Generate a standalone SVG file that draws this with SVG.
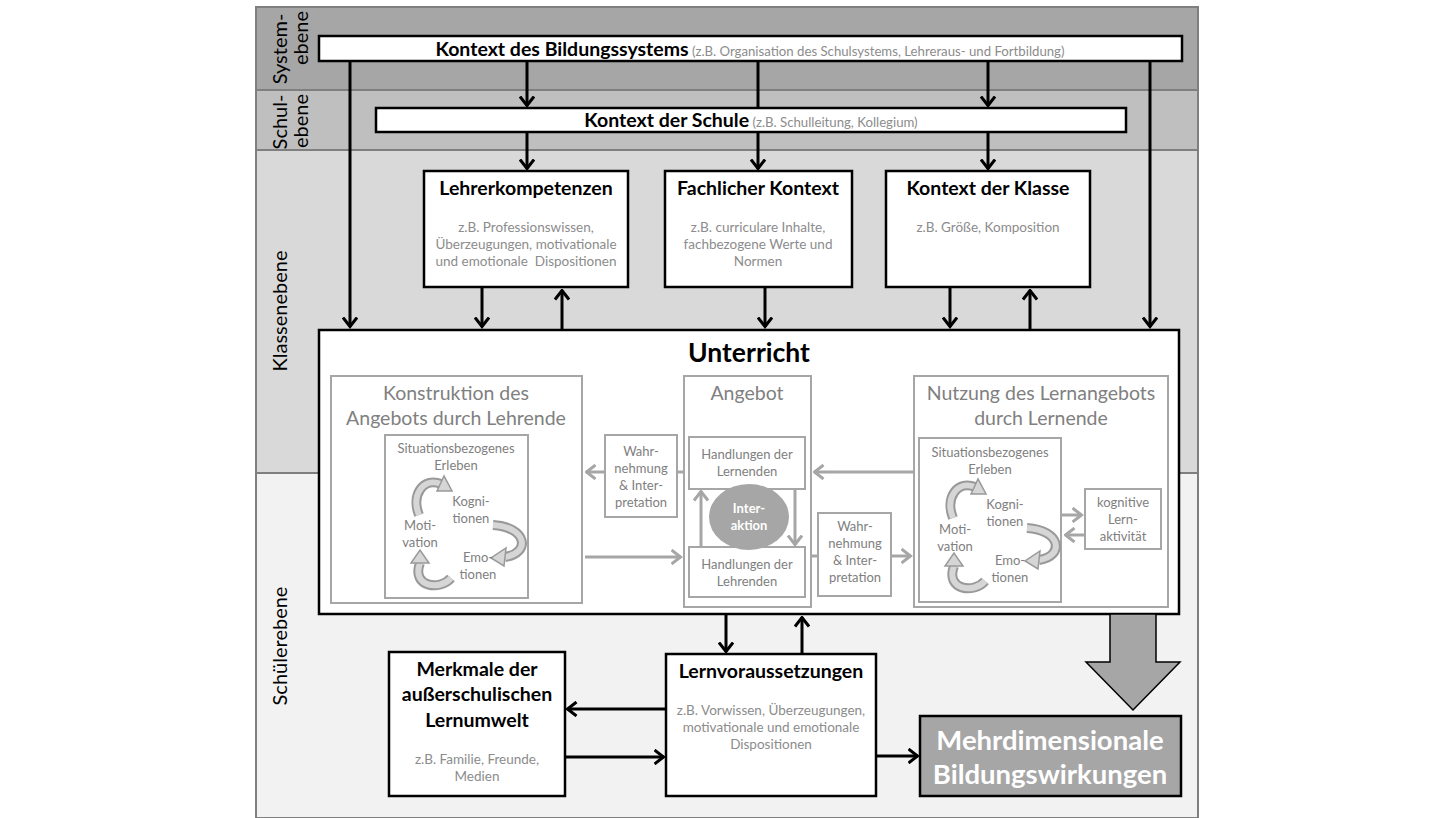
<svg xmlns="http://www.w3.org/2000/svg" width="1454" height="818" viewBox="0 0 1454 818">
<style>
text{font-family:Lato,"Open Sans","DejaVu Sans",sans-serif;}
.band{stroke:#7f7f7f;stroke-width:2;}
.lbl{font-size:20px;fill:#000;text-anchor:middle;}
.bx{fill:#fff;stroke:#000;stroke-width:2.5;}
.gbx{fill:#fff;stroke:#a6a6a6;stroke-width:2;}
.ttl{font-size:19.5px;font-weight:bold;fill:#000;text-anchor:middle;}
.sm{font-size:13.5px;fill:#8c8c8c;text-anchor:middle;}
.gt{font-size:19.5px;fill:#808080;text-anchor:middle;}
.gs{font-size:13px;fill:#808080;text-anchor:middle;}
.ar{stroke:#000;stroke-width:3;fill:none;marker-end:url(#ah);}
.ln{stroke:#000;stroke-width:3;fill:none;}
.gar{stroke:#a6a6a6;stroke-width:3;fill:none;marker-end:url(#gah);}
.gln{stroke:#a6a6a6;stroke-width:3;fill:none;}
.cy1{stroke:#999;stroke-width:10;fill:none;}
.cy2{stroke:#d6d6d6;stroke-width:6;fill:none;}
.cyh{fill:#d6d6d6;stroke:#999;stroke-width:1.5;}
</style>
<defs>
<marker id="ah" viewBox="0 0 12 16" refX="10.5" refY="8" markerWidth="12" markerHeight="16" markerUnits="userSpaceOnUse" orient="auto"><path d="M1,1 L10,8 L1,15" fill="none" stroke="#000" stroke-width="3"/></marker>
<marker id="gah" viewBox="0 0 12 16" refX="10.5" refY="8" markerWidth="12" markerHeight="16" markerUnits="userSpaceOnUse" orient="auto"><path d="M1,1 L10,8 L1,15" fill="none" stroke="#a6a6a6" stroke-width="3"/></marker>
<g id="cycle">
<path class="cy1" d="M34 80 C26 60 38 42 56 49"/><path class="cy2" d="M34 80 C26 60 38 42 56 49"/>
<polygon class="cyh" points="59,41 52,56 67,56"/>
<path class="cy1" d="M108 90 C142 92 146 118 120 122"/><path class="cy2" d="M108 90 C142 92 146 118 120 122"/>
<polygon class="cyh" points="121,113 119,131 106,123"/>
<path class="cy1" d="M66 143 C55 156 26 152 35 128"/><path class="cy2" d="M66 143 C55 156 26 152 35 128"/>
<polygon class="cyh" points="26,128 44,128 35,115"/>
</g>
</defs>

<g id="bands">
<rect x="256" y="7" width="942" height="83" fill="#a6a6a6" class="band"/>
<rect x="256" y="90" width="942" height="60" fill="#bfbfbf" class="band"/>
<rect x="256" y="150" width="942" height="323" fill="#d9d9d9" class="band"/>
<rect x="256" y="473" width="942" height="345" fill="#f2f2f2" class="band"/>
<text class="lbl" transform="translate(287,49) rotate(-90)">System-</text>
<text class="lbl" transform="translate(308,38) rotate(-90)">ebene</text>
<text class="lbl" transform="translate(287,122) rotate(-90)">Schul-</text>
<text class="lbl" transform="translate(308,121) rotate(-90)">ebene</text>
<text class="lbl" transform="translate(287,311) rotate(-90)">Klassenebene</text>
<text class="lbl" transform="translate(287,646) rotate(-90)">Schülerebene</text>
</g>

<g id="connectors">
<line class="ar" x1="350" y1="61" x2="350" y2="327"/>
<line class="ar" x1="527" y1="61" x2="527" y2="106"/>
<line class="ln" x1="758" y1="61" x2="758" y2="108"/>
<line class="ar" x1="988" y1="61" x2="988" y2="106"/>
<line class="ar" x1="1150" y1="61" x2="1150" y2="327"/>
<line class="ar" x1="527" y1="132" x2="527" y2="169"/>
<line class="ar" x1="758" y1="132" x2="758" y2="169"/>
<line class="ar" x1="988" y1="132" x2="988" y2="169"/>
<line class="ar" x1="482" y1="287" x2="482" y2="327"/>
<line class="ar" x1="562" y1="330" x2="562" y2="290"/>
<line class="ar" x1="765" y1="287" x2="765" y2="327"/>
<line class="ar" x1="950" y1="287" x2="950" y2="327"/>
<line class="ar" x1="1030" y1="330" x2="1030" y2="290"/>
<line class="ar" x1="726" y1="614" x2="726" y2="652"/>
<line class="ar" x1="802" y1="654" x2="802" y2="617"/>
<line class="ar" x1="666" y1="709" x2="567" y2="709"/>
<line class="ar" x1="565" y1="757" x2="664" y2="757"/>
<line class="ar" x1="876" y1="756" x2="918" y2="756"/>
</g>

<g id="kontext-bildungssystem">
<rect x="319" y="36" width="863" height="25" class="bx"/>
<text x="750" y="56" text-anchor="middle"><tspan font-size="19.5" font-weight="bold">Kontext des Bildungssystems</tspan><tspan font-size="13.2" fill="#8c8c8c"> (z.B. Organisation des Schulsystems, Lehreraus- und Fortbildung)</tspan></text>
</g>
<g id="kontext-schule">
<rect x="376" y="108" width="750" height="24" class="bx"/>
<text x="751" y="127" text-anchor="middle"><tspan font-size="19.5" font-weight="bold">Kontext der Schule</tspan><tspan font-size="13.2" fill="#8c8c8c"> (z.B. Schulleitung, Kollegium)</tspan></text>
</g>
<g id="lehrerkompetenzen">
<rect x="424" y="171" width="204" height="116" class="bx"/>
<text class="ttl" x="526" y="195">Lehrerkompetenzen</text>
<text class="sm" x="526" y="232">z.B. Professionswissen,</text>
<text class="sm" x="526" y="249">Überzeugungen, motivationale</text>
<text class="sm" x="526" y="266" style="white-space:pre">und emotionale  Dispositionen</text>
</g>
<g id="fachlicher-kontext">
<rect x="665" y="171" width="187" height="116" class="bx"/>
<text class="ttl" x="758" y="195">Fachlicher Kontext</text>
<text class="sm" x="758" y="232">z.B. curriculare Inhalte,</text>
<text class="sm" x="758" y="249">fachbezogene Werte und</text>
<text class="sm" x="758" y="266">Normen</text>
</g>
<g id="kontext-klasse">
<rect x="886" y="171" width="204" height="116" class="bx"/>
<text class="ttl" x="988" y="195">Kontext der Klasse</text>
<text class="sm" x="988" y="232">z.B. Größe, Komposition</text>
</g>

<g id="unterricht">
<rect x="319" y="330" width="860" height="284" class="bx"/>
<text x="749" y="362" text-anchor="middle" font-size="26.5" font-weight="bold">Unterricht</text>
</g>
<g id="konstruktion">
<rect x="331" y="376" width="251" height="227" class="gbx"/>
<text class="gt" x="456" y="400">Konstruktion des</text>
<text class="gt" x="456" y="425">Angebots durch Lehrende</text>
<rect x="385" y="435" width="143" height="163" class="gbx"/>
<g transform="translate(385,435)">
<use href="#cycle"/>
<text class="gs" x="71" y="18">Situationsbezogenes</text>
<text class="gs" x="71" y="35">Erleben</text>
<text class="gs" x="86" y="71">Kogni-</text>
<text class="gs" x="86" y="88">tionen</text>
<text class="gs" x="35" y="95">Moti-</text>
<text class="gs" x="35" y="112">vation</text>
<text class="gs" x="93" y="127">Emo-</text>
<text class="gs" x="93" y="144">tionen</text>
</g>
</g>
<g id="wahrnehmung-links">
<rect x="605" y="435" width="72" height="82" class="gbx"/>
<text class="gs" x="641" y="456">Wahr-</text>
<text class="gs" x="641" y="473">nehmung</text>
<text class="gs" x="641" y="490">&amp; Inter-</text>
<text class="gs" x="641" y="507">pretation</text>
</g>
<g id="angebot">
<rect x="684" y="376" width="127" height="231" class="gbx"/>
<text class="gt" x="747" y="400">Angebot</text>
<rect x="689" y="437" width="116" height="52" class="gbx"/>
<text class="gs" x="747" y="459">Handlungen der</text>
<text class="gs" x="747" y="476">Lernenden</text>
<rect x="689" y="547" width="116" height="50" class="gbx"/>
<text class="gs" x="747" y="569">Handlungen der</text>
<text class="gs" x="747" y="586">Lehrenden</text>
<ellipse cx="749" cy="517" rx="40" ry="33" fill="#a6a6a6"/>
<text x="749" y="513" text-anchor="middle" font-size="13" font-weight="bold" fill="#fff">Inter-</text>
<text x="749" y="530" text-anchor="middle" font-size="13" font-weight="bold" fill="#fff">aktion</text>
</g>
<g id="wahrnehmung-rechts">
<rect x="818" y="513" width="73" height="83" class="gbx"/>
<text class="gs" x="855" y="531">Wahr-</text>
<text class="gs" x="855" y="548">nehmung</text>
<text class="gs" x="855" y="565">&amp; Inter-</text>
<text class="gs" x="855" y="582">pretation</text>
</g>
<g id="nutzung">
<rect x="914" y="376" width="254" height="231" class="gbx"/>
<text class="gt" x="1041" y="400">Nutzung des Lernangebots</text>
<text class="gt" x="1041" y="425">durch Lernende</text>
<rect x="919" y="438" width="142" height="164" class="gbx"/>
<g transform="translate(919,438)">
<use href="#cycle"/>
<text class="gs" x="71" y="19">Situationsbezogenes</text>
<text class="gs" x="71" y="36">Erleben</text>
<text class="gs" x="86" y="71">Kogni-</text>
<text class="gs" x="86" y="88">tionen</text>
<text class="gs" x="36" y="96">Moti-</text>
<text class="gs" x="36" y="113">vation</text>
<text class="gs" x="91" y="127">Emo-</text>
<text class="gs" x="91" y="144">tionen</text>
</g>
</g>
<g id="kognitive-lernaktivitaet">
<rect x="1085" y="489" width="76" height="60" class="gbx"/>
<text class="gs" x="1123" y="507">kognitive</text>
<text class="gs" x="1123" y="524">Lern-</text>
<text class="gs" x="1123" y="541">aktivität</text>
</g>
<g id="inner-connectors">
<line class="gar" x1="605" y1="472" x2="586" y2="472"/>
<line class="gln" x1="677" y1="472" x2="684" y2="472"/>
<line class="gar" x1="585" y1="557" x2="681" y2="557"/>
<line class="gar" x1="913" y1="472" x2="814" y2="472"/>
<line class="gln" x1="811" y1="556" x2="818" y2="556"/>
<line class="gar" x1="891" y1="556" x2="911" y2="556"/>
<line class="gar" x1="701" y1="547" x2="701" y2="491"/>
<line class="gar" x1="795" y1="489" x2="795" y2="545"/>
<line class="gar" x1="1062" y1="515" x2="1082" y2="515"/>
<line class="gar" x1="1085" y1="535" x2="1065" y2="535"/>
</g>

<g id="wirkungspfeil">
<polygon points="1110,614 1156,614 1156,662 1180,662 1133,710 1086,662 1110,662" fill="#a6a6a6" stroke="#000" stroke-width="1.5"/>
</g>
<g id="merkmale">
<rect x="389" y="652" width="176" height="144" class="bx"/>
<text class="ttl" x="477" y="676">Merkmale der</text>
<text class="ttl" x="477" y="701">außerschulischen</text>
<text class="ttl" x="477" y="727">Lernumwelt</text>
<text class="sm" x="477" y="764">z.B. Familie, Freunde,</text>
<text class="sm" x="477" y="781">Medien</text>
</g>
<g id="lernvoraussetzungen">
<rect x="666" y="654" width="210" height="142" class="bx"/>
<text class="ttl" x="771" y="678">Lernvoraussetzungen</text>
<text class="sm" x="771" y="715">z.B. Vorwissen, Überzeugungen,</text>
<text class="sm" x="771" y="732">motivationale und emotionale</text>
<text class="sm" x="771" y="749">Dispositionen</text>
</g>
<g id="bildungswirkungen">
<rect x="920" y="716" width="261" height="80" fill="#a6a6a6" stroke="#000" stroke-width="2.5"/>
<text x="1050" y="750" text-anchor="middle" font-size="27.5" font-weight="bold" fill="#fff">Mehrdimensionale</text>
<text x="1050" y="784" text-anchor="middle" font-size="27.5" font-weight="bold" fill="#fff">Bildungswirkungen</text>
</g>
</svg>
